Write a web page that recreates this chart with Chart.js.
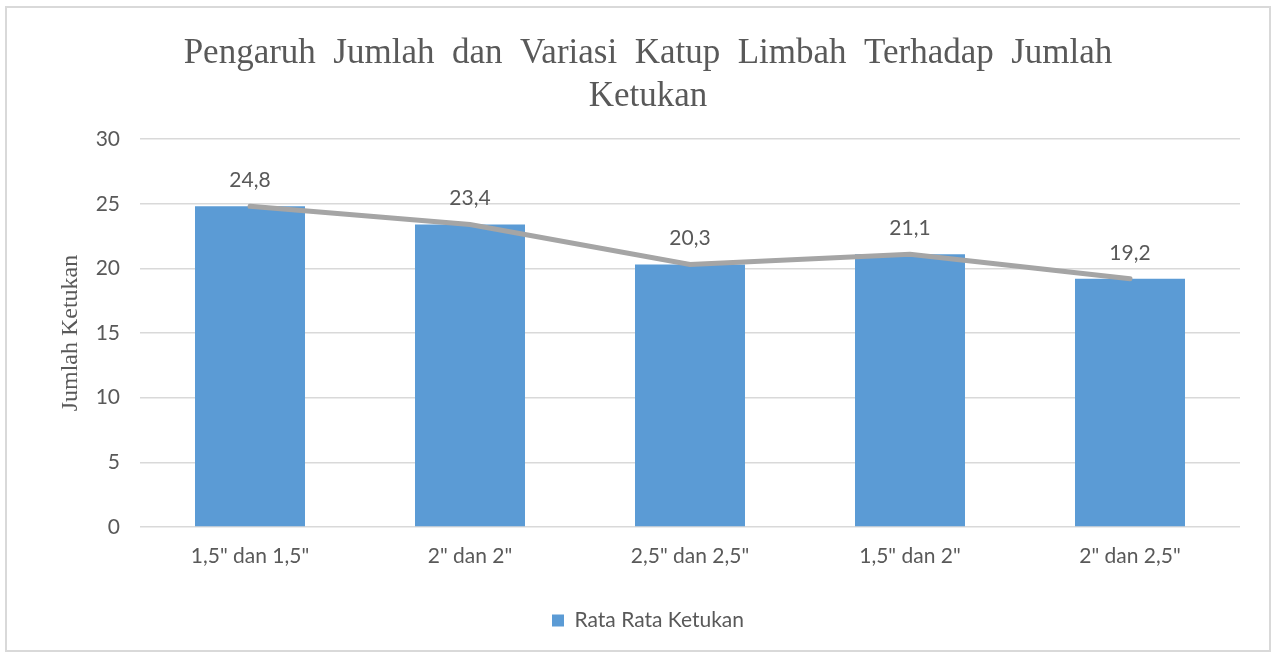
<!DOCTYPE html>
<html>
<head>
<meta charset="utf-8">
<script src="https://cdn.jsdelivr.net/npm/chart.js@4/dist/chart.umd.min.js"></script>
<style>
  body { margin: 0; background: #fff; }
  #frame { position: absolute; left: 5px; top: 6px; width: 1262px; height: 642px; border: 2px solid #d9d9d9; }
  #wrap { position: absolute; left: 0; top: 0; width: 1274px; height: 655px; }
</style>
</head>
<body>
<div id="frame"></div>
<div id="wrap"><canvas id="myChart"></canvas></div>
<script>
var categories = ['1,5" dan 1,5"', '2" dan 2"', '2,5" dan 2,5"', '1,5" dan 2"', '2" dan 2,5"'];
var rataRata = [24.8, 23.4, 20.3, 21.1, 19.2];
var yTicks = [0, 5, 10, 15, 20, 25, 30];
var titleLines = ['Pengaruh  Jumlah  dan  Variasi  Katup  Limbah  Terhadap  Jumlah', 'Ketukan'];

var textColor = '#595959';

// labels above the line points
var valueLabels = {
  id: 'valueLabels',
  afterDatasetsDraw: function (chart) {
    var ctx = chart.ctx;
    var meta = chart.getDatasetMeta(1);
    ctx.save();
    ctx.font = '21px Lato';
    ctx.fillStyle = textColor;
    ctx.textAlign = 'center';
    ctx.textBaseline = 'middle';
    meta.data.forEach(function (pt, i) {
      ctx.fillText(String(rataRata[i]).replace('.', ','), pt.x, pt.y - 26);
    });
    ctx.restore();
  }
};

var myChart = new Chart(document.getElementById('myChart'), {
  type: 'bar',
  data: {
    labels: categories,
    datasets: [{
      type: 'bar',
      label: 'Rata Rata Ketukan',
      data: rataRata,
      backgroundColor: '#5b9bd5',
      barPercentage: 0.5,
      categoryPercentage: 1,
      order: 1
    }, {
      type: 'line',
      label: 'line',
      data: rataRata,
      borderColor: '#a5a5a5',
      borderWidth: 5,
      borderCapStyle: 'round',
      pointRadius: 0,
      tension: 0,
      order: 0
    }]
  },
  options: {
    responsive: true,
    maintainAspectRatio: false,
    animation: false,
    events: [],
    layout: { padding: { left: 56, right: 34, top: 0, bottom: 14 } },
    plugins: {
      title: {
        display: true,
        text: titleLines,
        color: textColor,
        font: { family: 'Liberation Serif', size: 35, weight: 'normal', lineHeight: 1.23 },
        padding: { top: 32, bottom: 21 }
      },
      legend: {
        position: 'bottom',
        labels: {
          color: textColor,
          font: { family: 'Lato', size: 21 },
          boxWidth: 12,
          boxHeight: 12,
          padding: 10,
          filter: function (item) { return item.datasetIndex === 0; }
        }
      },
      tooltip: { enabled: false }
    },
    scales: {
      x: {
        grid: { display: false, drawTicks: false },
        border: { display: false },
        ticks: { color: textColor, font: { family: 'Lato', size: 21 }, padding: 17 },
        afterFit: function (s) { s.height = 73; }
      },
      y: {
        min: 0,
        max: 30,
        afterBuildTicks: function (s) { s.ticks = yTicks.map(function (v) { return { value: v }; }); },
        grid: { color: '#d9d9d9', lineWidth: 1.5, drawTicks: false },
        border: { display: false },
        ticks: { color: textColor, font: { family: 'Lato', size: 21 }, padding: 20 },
        title: {
          display: true,
          text: 'Jumlah Ketukan',
          color: textColor,
          font: { family: 'Liberation Serif', size: 24 },
          padding: 0
        },
        afterFit: function (s) { s.width = 84; }
      }
    }
  },
  plugins: [valueLabels]
});
</script>
</body>
</html>
